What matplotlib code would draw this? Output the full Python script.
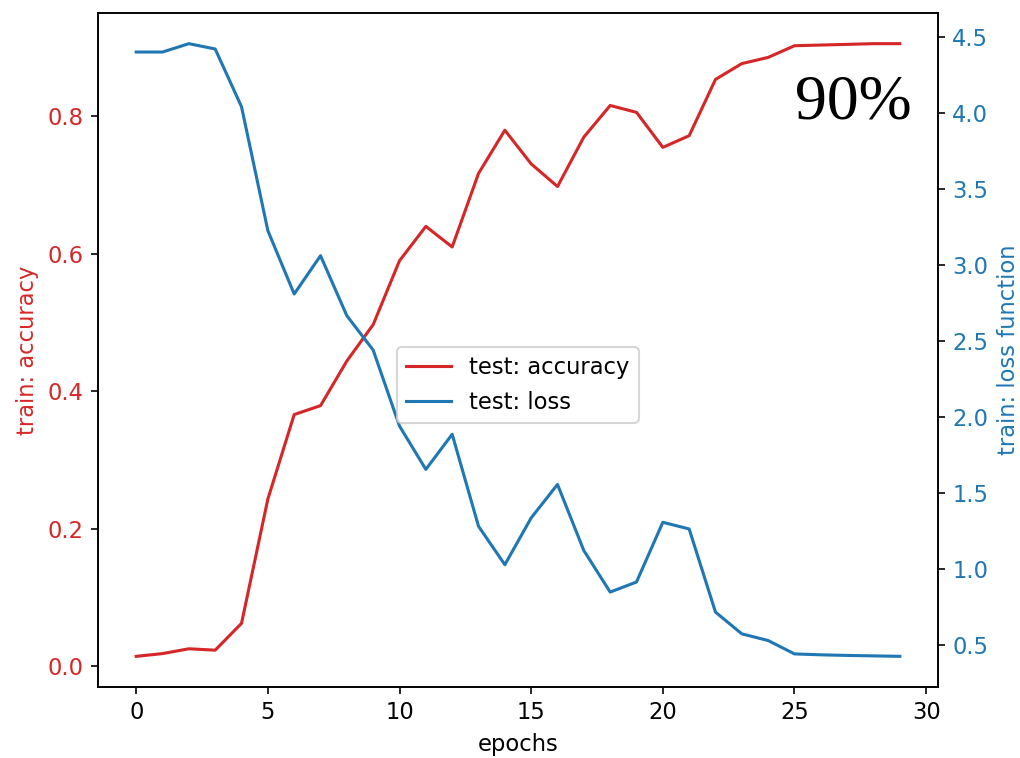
import matplotlib
matplotlib.use("Agg")
import matplotlib.pyplot as plt

epochs = list(range(30))
accuracy = [0.014, 0.018, 0.025, 0.023, 0.062, 0.243, 0.366, 0.379, 0.444, 0.497,
            0.590, 0.640, 0.610, 0.717, 0.780, 0.731, 0.698, 0.770, 0.816, 0.806,
            0.755, 0.772, 0.854, 0.877, 0.886, 0.903, 0.904, 0.905, 0.906, 0.906]
loss = [4.40, 4.40, 4.455, 4.42, 4.04, 3.225, 2.808, 3.06, 2.665, 2.439,
        1.939, 1.654, 1.885, 1.28, 1.027, 1.335, 1.555, 1.12, 0.847, 0.913,
        1.306, 1.262, 0.715, 0.572, 0.528, 0.44, 0.434, 0.43, 0.427, 0.424]

plt.rcParams["font.size"] = 11

DPI = 148
fig = plt.figure(figsize=(1021 / DPI, 758 / DPI), dpi=DPI)
ax = fig.add_axes([0.0960, 0.0937, 0.9187 - 0.0960, 0.9828 - 0.0937])
ax2 = ax.twinx()

l1, = ax.plot(epochs, accuracy, color="tab:red", label="test: accuracy")
l2, = ax2.plot(epochs, loss, color="tab:blue", label="test: loss")

ax.set_xlabel("epochs")
ax.set_ylabel("train: accuracy", color="tab:red")
ax.tick_params(axis="y", labelcolor="tab:red")
ax2.set_ylabel("train: loss function", color="tab:blue")
ax2.tick_params(axis="y", labelcolor="tab:blue")

ax2.legend(handles=[l1, l2], loc="center", bbox_to_anchor=(0.5, 0.448))

ax.text(0.9687, 0.8438, "90%", transform=ax.transAxes, ha="right", va="baseline",
        fontsize=31, family=["Liberation Serif", "DejaVu Serif"], zorder=5)

fig.savefig("out.png", dpi=DPI)
